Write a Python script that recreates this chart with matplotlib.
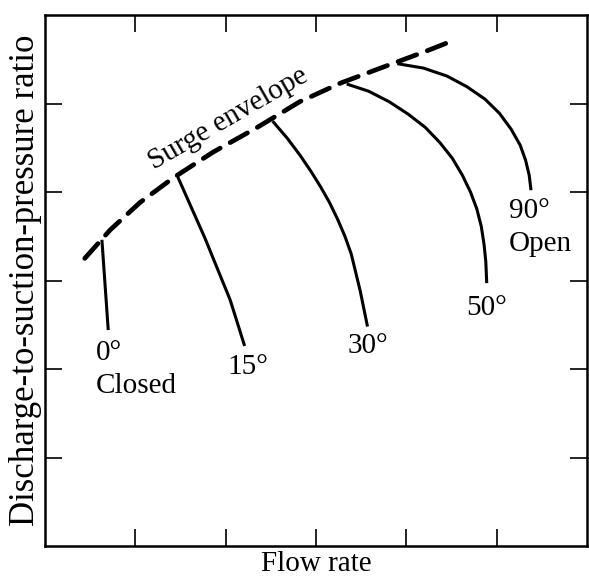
import numpy as np
import matplotlib.pyplot as plt

plt.rcParams['font.family'] = ['Liberation Serif', 'DejaVu Serif']

# surge envelope (dashed)
env_x = [0.44, 0.72, 1.05, 1.42, 1.86, 2.35, 2.82, 3.27, 3.74, 4.19, 4.54]
env_y = [3.25, 3.57, 3.88, 4.16, 4.45, 4.73, 5.02, 5.23, 5.41, 5.58, 5.72]

# valve-position curves
curve_names = ['0°', '15°', '30°', '50°', '90°']
curve_x = [
    [0.63, 0.70],
    [1.47, 1.77, 2.05, 2.21],
    [2.52, 2.68, 2.82, 2.94, 3.05, 3.15, 3.24, 3.32, 3.39, 3.44, 3.49, 3.53, 3.57],
    [3.34, 3.58, 3.81, 4.02, 4.21, 4.37, 4.51, 4.62, 4.71, 4.78, 4.83, 4.86, 4.88, 4.89],
    [3.90, 4.19, 4.45, 4.67, 4.87, 5.03, 5.16, 5.26, 5.32, 5.36, 5.38],
]
curve_y = [
    [3.46, 2.44],
    [4.17, 3.48, 2.78, 2.26],
    [4.80, 4.61, 4.42, 4.24, 4.06, 3.88, 3.69, 3.50, 3.30, 3.09, 2.88, 2.68, 2.48],
    [5.22, 5.14, 5.02, 4.88, 4.73, 4.56, 4.38, 4.19, 4.00, 3.81, 3.61, 3.41, 3.21, 2.97],
    [5.45, 5.40, 5.31, 5.19, 5.05, 4.89, 4.71, 4.53, 4.36, 4.19, 4.02],
]
sub_names = ['Closed', '', '', '', 'Open']

fig = plt.figure(figsize=(5.89, 5.78), dpi=100)
ax = fig.add_axes([45 / 589, 1 - 546 / 578, 542 / 589, 531 / 578])

ax.plot(env_x, env_y, color='black', lw=3.4, dashes=(4.2, 2.4),
        dash_capstyle='round', solid_capstyle='round')
for xs, ys in zip(curve_x, curve_y):
    ax.plot(xs, ys, color='black', lw=2.2, solid_capstyle='butt',
            solid_joinstyle='round')

# label offsets from each curve's lower end (points)
offs = [(-9, -7), (2, -6), (0, -4.5), (0, -8.5), (-16, -5.5)]
fs = 21
for name, sub, xs, ys, (dx, dy) in zip(curve_names, sub_names, curve_x, curve_y, offs):
    ax.annotate(name, (xs[-1], ys[-1]), xytext=(dx, dy), textcoords='offset points',
                ha='left' if sub else 'center', va='top', fontsize=fs)
    if sub:
        ax.annotate(sub, (xs[-1], ys[-1]), xytext=(dx, dy - 24), textcoords='offset points',
                    ha='left', va='top', fontsize=fs)

ax.text(2.03, 4.83, 'Surge envelope', rotation=30, rotation_mode='anchor',
        ha='center', va='center', fontsize=fs)

ax.set_xlim(0, 6)
ax.set_ylim(0, 6)
ax.set_xticks([1, 2, 3, 4, 5])
ax.set_yticks([1, 2, 3, 4, 5])
ax.tick_params(direction='in', length=12, width=1.2, top=True, right=True,
               labelbottom=False, labelleft=False)
for s in ax.spines.values():
    s.set_linewidth(1.8)

ax.set_xlabel('Flow rate', fontsize=21, labelpad=3.5)
ax.set_ylabel('Discharge-to-suction-pressure ratio', fontsize=25, labelpad=2)

fig.savefig('out.png', dpi=100)
